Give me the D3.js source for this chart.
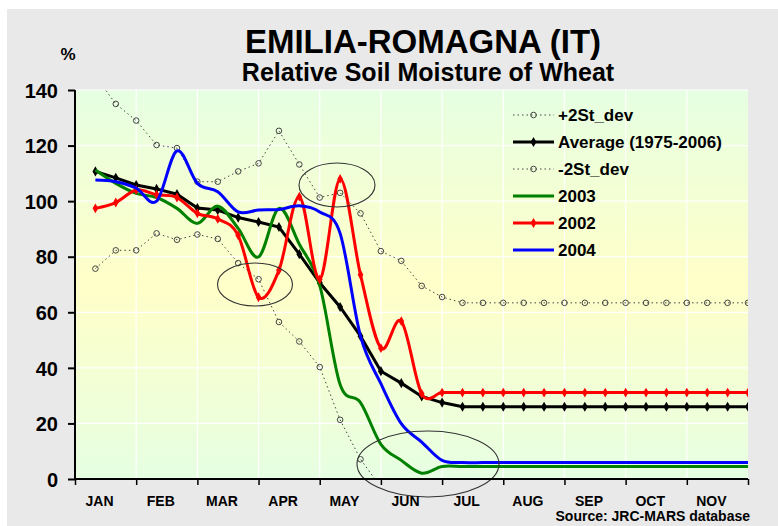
<!DOCTYPE html>
<html><head><meta charset="utf-8">
<script src="https://cdn.jsdelivr.net/npm/d3@7"></script>
<style>
html,body{margin:0;padding:0;background:#fff;}
text{font-family:Arial,"Liberation Sans",sans-serif;font-weight:bold;fill:#000;}
</style></head>
<body>
<svg id="chart" width="778" height="526"></svg>
<script>
// ---- data (33 dekads, Jan-Nov) ----
const months = ["JAN","FEB","MAR","APR","MAY","JUN","JUL","AUG","SEP","OCT","NOV"];
const yTicks = [0,20,40,60,80,100,120,140];
const plus2 = [145,135,129,120.2,119.1,107,107,110.7,113.6,125.3,113.2,101.3,103,95.6,82,78.5,69.5,65.5,63.4,63.4,63.4,63.4,63.4,63.4,63.4,63.4,63.4,63.4,63.4,63.4,63.4,63.4,63.4];
const average = [110.7,108.4,105.8,104.4,102.5,97.5,96.8,94.1,92.5,90.7,80.9,70.6,61.9,51.4,38.8,34.5,29.7,27.5,26,26,26,26,26,26,26,26,26,26,26,26,26,26,26];
const minus2 = [75.7,82.3,82.3,88.4,86.1,88,86.4,77.7,71.9,56.5,49.5,40.3,21.3,7.1,-3,-3,-3,-3,-3,-3,-3,-3,-3,-3,-3,-3,-3,-3,-3,-3,-3,-3,-3];
const y2003 = [111.2,106.4,102.8,101.3,97.4,92,98.2,90.2,79.9,97.4,84.5,69.7,34,27.5,12.5,6.7,2.1,4.5,4.5,4.5,4.5,4.5,4.5,4.5,4.5,4.5,4.5,4.5,4.5,4.5,4.5,4.5,4.5];
const y2002 = [97.4,99.5,104,102.3,101.3,95.6,93.6,87.7,65.4,75.1,101.6,71.8,108,73.5,47.1,56.8,30.7,31.1,31.1,31.1,31.1,31.1,31.1,31.1,31.1,31.1,31.1,31.1,31.1,31.1,31.1,31.1,31.1];
const y2004 = [107.6,107,104.7,100,118.1,106.4,103.4,96.1,96.8,97,98.3,96.1,88.4,51.4,34.3,19.9,13.3,6.7,5.9,5.9,5.9,5.9,5.9,5.9,5.9,5.9,5.9,5.9,5.9,5.9,5.9,5.9,5.9];
const legendLabels = ["+2St_dev","Average (1975-2006)","-2St_dev","2003","2002","2004"];

const svg = d3.select("#chart");
const L = 75, R = 748, T = 90, B = 479;
const x = d3.scaleLinear().domain([-1, 32]).range([L, R]);
const y = d3.scaleLinear().domain([0, 140]).range([B, T]);

// outer panel
svg.append("rect").attr("x",7).attr("y",9).attr("width",771).attr("height",517).attr("fill","#e9e9e9");

// gradient background
const defs = svg.append("defs");
const g = defs.append("linearGradient").attr("id","bg").attr("x1",0).attr("y1",0).attr("x2",0).attr("y2",1);
g.append("stop").attr("offset","0%").attr("stop-color","#e6ffe2");
g.append("stop").attr("offset","50%").attr("stop-color","#ffffc8");
g.append("stop").attr("offset","100%").attr("stop-color","#e6ffe2");
defs.append("clipPath").attr("id","clip").append("rect").attr("x",L).attr("y",T).attr("width",R-L).attr("height",B-T);
svg.append("rect").attr("x",L).attr("y",T).attr("width",R-L).attr("height",B-T).attr("fill","url(#bg)");

// grid
const monthTicks = d3.range(0, 12).map(m => -1 + 3*m);
svg.append("g").selectAll("line").data(monthTicks.slice(1,-1)).join("line")
  .attr("x1",d=>x(d)).attr("x2",d=>x(d)).attr("y1",T).attr("y2",B)
  .attr("stroke","#fff").attr("stroke-width",1.2);
svg.append("g").selectAll("line").data(yTicks.slice(1)).join("line")
  .attr("x1",L).attr("x2",R).attr("y1",d=>y(d)).attr("y2",d=>y(d))
  .attr("stroke","#fff").attr("stroke-width",1.2);

// titles
svg.append("text").attr("x",423).attr("y",53).attr("text-anchor","middle").style("font-size","33px").text("EMILIA-ROMAGNA (IT)");
svg.append("text").attr("x",428).attr("y",81).attr("text-anchor","middle").style("font-size","25px").text("Relative Soil Moisture of Wheat");
svg.append("text").attr("x",68).attr("y",60).attr("text-anchor","middle").style("font-size","17px").text("%");

// series
const plot = svg.append("g").attr("clip-path","url(#clip)");
const lineStraight = d3.line().x((d,i)=>x(i)).y(d=>y(d));
const lineSmooth = d3.line().x((d,i)=>x(i)).y(d=>y(d)).curve(d3.curveCardinal.tension(0));

function dotted(data){
  plot.append("path").attr("d",lineStraight(data)).attr("fill","none")
    .attr("stroke","#444").attr("stroke-width",1).attr("stroke-dasharray","1.5,3");
  plot.append("g").selectAll("circle").data(data).join("circle")
    .attr("cx",(d,i)=>x(i)).attr("cy",d=>y(d)).attr("r",2.8)
    .attr("fill","none").attr("stroke","#444").attr("stroke-width",1);
}
dotted(plus2);
dotted(minus2);

plot.append("path").attr("d",lineStraight(average)).attr("fill","none").attr("stroke","#000").attr("stroke-width",3);
const diamond = d3.symbol().type(d3.symbolDiamond).size(30);
plot.append("g").selectAll("path").data(average).join("path")
  .attr("d",diamond).attr("transform",(d,i)=>`translate(${x(i)},${y(d)})`).attr("fill","#000");

plot.append("path").attr("d",lineSmooth(y2003)).attr("fill","none").attr("stroke","#008000").attr("stroke-width",3);
plot.append("path").attr("d",lineSmooth(y2002)).attr("fill","none").attr("stroke","#ff0000").attr("stroke-width",3);
plot.append("g").selectAll("path").data(y2002).join("path")
  .attr("d",d3.symbol().type(d3.symbolDiamond).size(28)).attr("transform",(d,i)=>`translate(${x(i)},${y(d)})`).attr("fill","#ff0000");
plot.append("path").attr("d",lineSmooth(y2004)).attr("fill","none").attr("stroke","#0000ff").attr("stroke-width",3);

// annotation ellipses
const ell = [[337,185,38,22],[255,284.5,37.5,21.5],[428,464,71,33]];
svg.append("g").selectAll("ellipse").data(ell).join("ellipse")
  .attr("cx",d=>d[0]).attr("cy",d=>d[1]).attr("rx",d=>d[2]).attr("ry",d=>d[3])
  .attr("fill","none").attr("stroke","#333").attr("stroke-width",1.1);

// axes
const yAxis = svg.append("g").attr("transform",`translate(${L},0)`)
  .call(d3.axisLeft(y).tickValues(yTicks).tickSize(7).tickPadding(10).tickFormat(d3.format("d")));
yAxis.select(".domain").attr("stroke","#000").attr("stroke-width",2).attr("d",`M0,${T}V${B}`);
yAxis.selectAll(".tick line").attr("stroke","#000").attr("stroke-width",2);
yAxis.selectAll("text").style("font-size","20px").attr("dy","0.36em");

const xAxis = svg.append("g").attr("transform",`translate(0,${B})`)
  .call(d3.axisBottom(x).tickValues(monthTicks).tickSize(6).tickFormat(""));
xAxis.select(".domain").attr("stroke","#000").attr("stroke-width",2).attr("d",`M${L},0H${R}`);
xAxis.selectAll(".tick line").attr("stroke","#000").attr("stroke-width",1.5);

svg.append("g").selectAll("text").data(months).join("text")
  .attr("x",(d,i)=>x(3*i+0.5)-6).attr("y",506).attr("text-anchor","middle")
  .style("font-size","14px").text(d=>d);

svg.append("text").attr("x",750).attr("y",521).attr("text-anchor","end").style("font-size","14px").text("Source: JRC-MARS database");

// legend
const lg = svg.append("g");
legendLabels.forEach((lab,k)=>{
  const yy = 115 + 27*k;
  const row = lg.append("g");
  if (k===0 || k===2){
    row.append("line").attr("x1",513).attr("x2",554).attr("y1",yy).attr("y2",yy).attr("stroke","#444").attr("stroke-dasharray","1.5,3");
    row.append("circle").attr("cx",533.5).attr("cy",yy).attr("r",2.8).attr("fill","none").attr("stroke","#444");
  } else {
    const col = k===1?"#000":k===3?"#008000":k===4?"#ff0000":"#0000ff";
    row.append("line").attr("x1",513).attr("x2",554).attr("y1",yy).attr("y2",yy).attr("stroke",col).attr("stroke-width",3);
    if (k===1 || k===4) row.append("path").attr("d",diamond).attr("transform",`translate(533.5,${yy})`).attr("fill",col);
  }
  row.append("text").attr("x",558).attr("y",yy).attr("dy","0.36em").style("font-size","17px").text(lab);
});
</script>
</body></html>
